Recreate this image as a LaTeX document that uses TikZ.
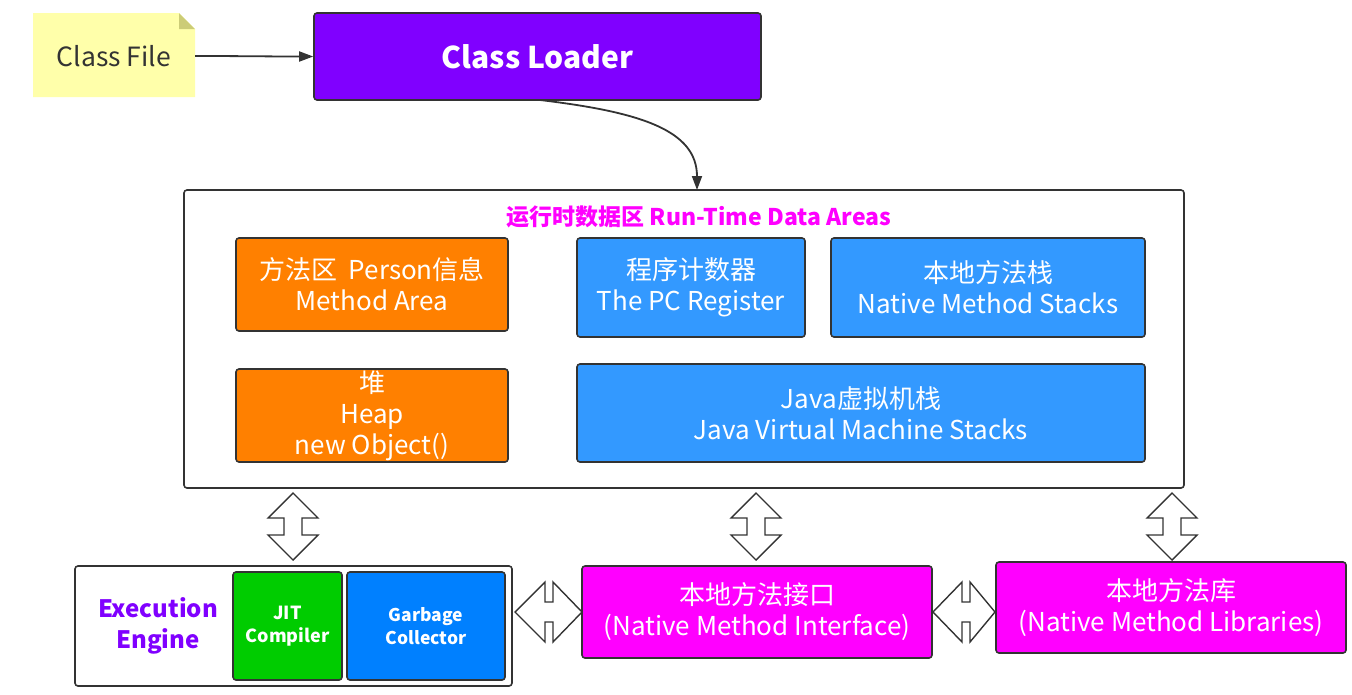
\documentclass[tikz,border=0pt]{standalone}
\usepackage{fontspec}
\setmainfont{Noto Sans CJK SC}
\usetikzlibrary{arrows.meta,calc}
\definecolor{ln}{HTML}{333333}
\definecolor{notey}{HTML}{FFFFAA}
\definecolor{notefold}{HTML}{CCCC77}
\definecolor{purp}{HTML}{8000FF}
\definecolor{mag}{HTML}{FF00FF}
\definecolor{orng}{HTML}{FF8000}
\definecolor{lblue}{HTML}{3399FF}
\definecolor{gblue}{HTML}{0080FF}
\definecolor{grn}{HTML}{00CC00}
\begin{document}
\begin{tikzpicture}[x=1pt,y=-1pt,
  box/.style={draw=ln,line width=1.6pt,rounded corners=3pt,inner sep=0pt,align=center,text=white},
  big/.style={font=\fontsize{26}{31}\selectfont},
  conn/.style={draw=ln,line width=1.8pt,-{Triangle[length=14pt,width=10pt]}},
  dbl/.style={draw=ln,line width=1.4pt,fill=white,line join=miter}
]
\useasboundingbox (0,0) rectangle (1352,694);
% Class file note
\coordinate (cfnw) at (33,13);
\coordinate (cfse) at (195,97);
\fill[notey] (cfnw) -- (179,13) -- (195,29) -- (cfse) -- (33,97) -- cycle;
\fill[notefold] (179,13) -- (195,29) -- (179,29) -- cycle;
\node[inner sep=0pt,minimum width=162,minimum height=84,text=ln,font=\fontsize{26.5}{30}\selectfont] (cf) at (114,56) {Class File};
% Class loader
\node[box,fill=purp,minimum width=447,minimum height=87,font=\fontsize{30}{34}\selectfont\bfseries] (cl) at (537.5,56.5) {Class Loader};
% Run-time data areas
\node[draw=ln,line width=1.6pt,rounded corners=3pt,minimum width=1000,minimum height=298,inner sep=0pt] (rt) at (684,339) {};
\node[text=mag,font=\fontsize{23}{26}\selectfont\bfseries] (rtt) at (699,217) {运行时数据区 Run-Time Data Areas};
\node[box,big,fill=orng,minimum width=272,minimum height=93] (ma) at (372,284.5) {方法区\ \ Person信息\\Method Area};
\node[box,big,fill=lblue,minimum width=228,minimum height=99] (pc) at (691,287.5) {程序计数器\\The PC Register};
\node[box,big,fill=lblue,minimum width=314,minimum height=99] (ns) at (988,287.5) {本地方法栈\\Native Method Stacks};
\node[box,big,fill=orng,minimum width=272,minimum height=93] (hp) at (372,415.5) {堆\\Heap\\new Object()};
\node[box,big,fill=lblue,minimum width=568,minimum height=98] (js) at (861,413) {Java虚拟机栈\\Java Virtual Machine Stacks};
% Execution engine
\node[draw=ln,line width=1.6pt,rounded corners=3pt,minimum width=437,minimum height=120,inner sep=0pt] (ee) at (293.5,626) {};
\node[text=purp,align=center,font=\fontsize{24}{31}\selectfont\bfseries] (eet) at (158,626) {Execution\\Engine};
\node[box,fill=grn,minimum width=109,minimum height=108,font=\fontsize{18}{23}\selectfont\bfseries] (jit) at (287.5,626) {JIT\\Compiler};
\node[box,fill=gblue,minimum width=158,minimum height=108,font=\fontsize{17.5}{23}\selectfont\bfseries] (gc) at (426,626) {Garbage\\Collector};
% Native
\node[box,big,fill=mag,minimum width=350,minimum height=92] (nmi) at (757,612) {本地方法接口\\(Native Method Interface)};
\node[box,big,fill=mag,minimum width=350,minimum height=91] (nml) at (1171,607.5) {本地方法库\\(Native Method Libraries)};
% connectors
\draw[conn] (cfse |- cf.east) to[out=0,in=180] (cl.west);
\coordinate (rtin) at (697,190);
\draw[conn] (540,100) .. controls (640,112) and (697,130) .. (rtin);
% double arrows vertical
\foreach \cx in {293,756,1172}{
  \draw[dbl] (\cx,493) -- (\cx+25,518) -- (\cx+9,518) -- (\cx+9,535) -- (\cx+25,535) -- (\cx,560) -- (\cx-25,535) -- (\cx-9,535) -- (\cx-9,518) -- (\cx-25,518) -- cycle;
}
% double arrows horizontal
\draw[dbl] (515,612) -- (545,582) -- (545,602) -- (553,602) -- (553,582) -- (582,612) -- (553,642) -- (553,622) -- (545,622) -- (545,642) -- cycle;
\draw[dbl] (933,612) -- (962,582) -- (962,602) -- (970,602) -- (970,582) -- (995,612) -- (970,642) -- (970,622) -- (962,622) -- (962,642) -- cycle;
\end{tikzpicture}
\end{document}
